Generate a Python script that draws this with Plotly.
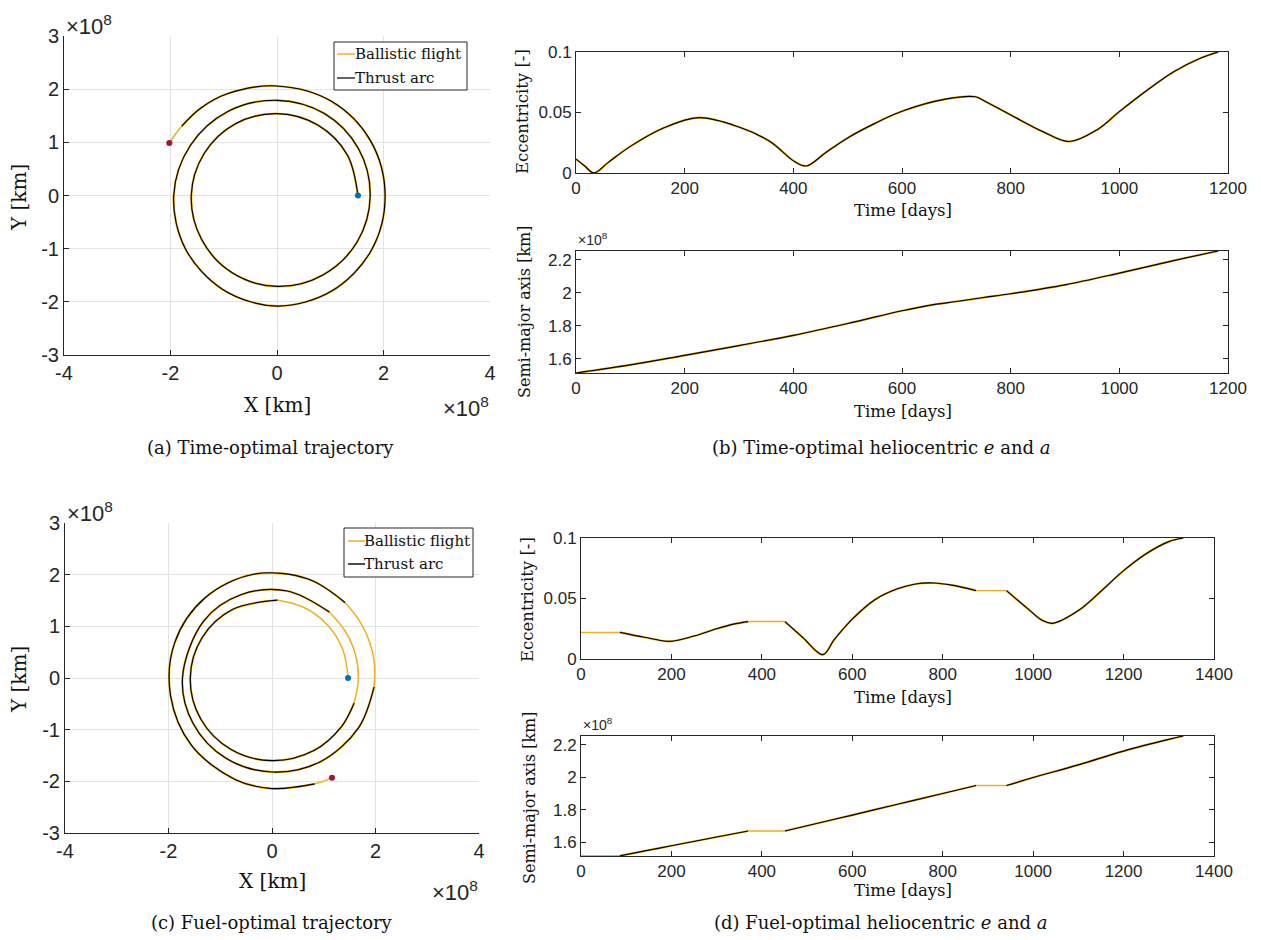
import math
import plotly.graph_objects as go

W, H = 1261, 940

# ---------------- data ----------------
# (a) time-optimal trajectory: cumulative polar angle [deg] and radius [1e8 km]
theta_time = [0, 30, 60, 90, 120, 150, 180, 210, 240, 270, 300, 330, 360, 390, 420, 450,
              480, 510, 540, 570, 600, 630, 660, 690, 720, 750, 780, 810, 836, 851, 864, 869, 874]
r_time = [1.52, 1.525, 1.53, 1.54, 1.56, 1.58, 1.61, 1.64, 1.68, 1.71, 1.725, 1.74, 1.75, 1.765, 1.78, 1.79,
          1.83, 1.88, 1.94, 1.99, 2.04, 2.08, 2.07, 2.05, 2.03, 2.035, 2.045, 2.06, 2.13, 2.18, 2.215,
          2.23, 2.25]
ballistic_time_traj = [(864, 874)]

# (b) time-optimal eccentricity and semi-major axis
t_time_e = [0, 16, 33, 60, 100, 160, 226, 300, 357, 402, 424, 460, 500, 550, 600, 680, 735, 750,
            800, 860, 908, 960, 1000, 1050, 1100, 1150, 1182]
e_time = [0.0115, 0.0058, 0.0, 0.009, 0.022, 0.037, 0.0458, 0.038, 0.026, 0.0096, 0.0058, 0.017,
          0.029, 0.041, 0.051, 0.061, 0.063, 0.060, 0.048, 0.034, 0.026, 0.036, 0.0507, 0.068,
          0.0836, 0.095, 0.1]
t_time_a = [0, 100, 200, 300, 400, 500, 600, 650, 700, 750, 800, 900, 1000, 1100, 1182]
a_time = [1.515, 1.564, 1.622, 1.681, 1.743, 1.815, 1.892, 1.925, 1.948, 1.972, 1.995, 2.049,
          2.12, 2.196, 2.254]
ballistic_time_days = []

# (c) fuel-optimal trajectory
theta_fuel = [0, 22, 44, 66, 86, 120, 150, 180, 210, 240, 270, 300, 325, 343, 360, 376, 392, 409,
              440, 470, 500, 540, 570, 600, 630, 660, 690, 715, 728, 740, 753, 766, 790, 820, 850,
              880, 910, 940, 970, 990, 1012, 1016, 1021]
r_fuel = [1.47, 1.475, 1.485, 1.50, 1.51, 1.53, 1.56, 1.58, 1.59, 1.595, 1.60, 1.62, 1.64, 1.66, 1.67,
          1.675, 1.68, 1.69, 1.71, 1.72, 1.72, 1.73, 1.76, 1.79, 1.82, 1.87, 1.93, 1.98, 2.0, 2.01,
          2.02, 2.03, 2.04, 2.04, 2.02, 2.0, 1.99, 2.03, 2.09, 2.14, 2.21, 2.23, 2.25]
ballistic_fuel_traj = [(0, 86), (343, 409), (715, 766), (1012, 1021)]

# (d) fuel-optimal eccentricity and semi-major axis
t_fuel_e = [0, 86, 140, 197, 250, 300, 340, 370, 451, 490, 535, 560, 600, 650, 700, 740, 780, 820,
            874, 941, 990, 1020, 1043, 1100, 1150, 1200, 1250, 1300, 1332]
e_fuel = [0.022, 0.022, 0.018, 0.0146, 0.019, 0.025, 0.029, 0.0309, 0.0309, 0.018, 0.0036, 0.016,
          0.033, 0.049, 0.058, 0.062, 0.0628, 0.061, 0.0565, 0.0565, 0.041, 0.032, 0.0295, 0.040,
          0.056, 0.073, 0.087, 0.097, 0.1]
t_fuel_a = [0, 86, 150, 200, 300, 370, 451, 500, 600, 700, 800, 874, 941, 1000, 1100, 1200, 1300, 1332]
a_fuel = [1.515, 1.515, 1.55, 1.577, 1.631, 1.668, 1.668, 1.70, 1.766, 1.833, 1.899, 1.948, 1.948,
          1.997, 2.075, 2.16, 2.232, 2.253]
ballistic_fuel_days = [(0, 86), (370, 451), (874, 941)]

traj_xticks = [-4, -2, 0, 2, 4]
traj_xticktext = ["-4", "-2", "0", "2", "4"]
traj_yticks = [-3, -2, -1, 0, 1, 2, 3]
traj_yticktext = ["-3", "-2", "-1", "0", "1", "2", "3"]
ecc_ticks = [0, 0.05, 0.1]
ecc_ticktext = ["0", "0.05", "0.1"]
sma_ticks = [1.6, 1.8, 2.0, 2.2]
sma_ticktext = ["1.6", "1.8", "2", "2.2"]
time_ticks_b = [0, 200, 400, 600, 800, 1000, 1200]
time_ticks_d = [0, 200, 400, 600, 800, 1000, 1200, 1400]
legend_labels = ["Ballistic flight", "Thrust arc"]

ORANGE = "#EDB120"
BLACK = "#000000"
BLUE = "#0072BD"
RED = "#A2142F"
AX = "#262626"
SERIF = "DejaVu Serif, Liberation Serif, serif"
SANS = "Liberation Sans, Arial, Helvetica, sans-serif"


def segments(p, intervals):
    bounds = sorted(set([p[0], p[-1]] + [v for iv in intervals for v in iv]))
    out = []
    for lo, hi in zip(bounds[:-1], bounds[1:]):
        idx = [i for i, v in enumerate(p) if lo <= v <= hi]
        if len(idx) < 2:
            continue
        ball = any(a <= lo and hi <= b for a, b in intervals)
        out.append((ball, idx))
    return out


fig = go.Figure()


def add_curve(xs, ys, p, intervals, xa, ya):
    for ball, idx in segments(p, intervals):
        sx = [xs[i] for i in idx]
        sy = [ys[i] for i in idx]
        if ball:
            fig.add_trace(go.Scatter(x=sx, y=sy, mode="lines", xaxis=xa, yaxis=ya,
                                     line=dict(color=ORANGE, width=1.5, shape="spline", smoothing=1),
                                     name=legend_labels[0], showlegend=False, hoverinfo="skip"))
        else:
            fig.add_trace(go.Scatter(x=sx, y=sy, mode="lines", xaxis=xa, yaxis=ya,
                                     line=dict(color=ORANGE, width=2.2, shape="spline", smoothing=1),
                                     showlegend=False, hoverinfo="skip"))
            fig.add_trace(go.Scatter(x=sx, y=sy, mode="lines", xaxis=xa, yaxis=ya,
                                     line=dict(color=BLACK, width=1.15, shape="spline", smoothing=1),
                                     name=legend_labels[1], showlegend=False, hoverinfo="skip"))


def polar_xy(theta, r):
    xs = [ri * math.cos(math.radians(t)) for t, ri in zip(theta, r)]
    ys = [ri * math.sin(math.radians(t)) for t, ri in zip(theta, r)]
    return xs, ys


# (a)
xa_, ya_ = polar_xy(theta_time, r_time)
add_curve(xa_, ya_, theta_time, ballistic_time_traj, "x", "y")
fig.add_trace(go.Scatter(x=[xa_[0]], y=[ya_[0]], mode="markers", xaxis="x", yaxis="y",
                         marker=dict(color=BLUE, size=6), showlegend=False))
fig.add_trace(go.Scatter(x=[xa_[-1]], y=[ya_[-1]], mode="markers", xaxis="x", yaxis="y",
                         marker=dict(color=RED, size=6), showlegend=False))
# (b)
add_curve(t_time_e, e_time, t_time_e, ballistic_time_days, "x2", "y2")
add_curve(t_time_a, a_time, t_time_a, ballistic_time_days, "x3", "y3")
# (c)
xc_, yc_ = polar_xy(theta_fuel, r_fuel)
add_curve(xc_, yc_, theta_fuel, ballistic_fuel_traj, "x4", "y4")
fig.add_trace(go.Scatter(x=[xc_[0]], y=[yc_[0]], mode="markers", xaxis="x4", yaxis="y4",
                         marker=dict(color=BLUE, size=6), showlegend=False))
fig.add_trace(go.Scatter(x=[xc_[-1]], y=[yc_[-1]], mode="markers", xaxis="x4", yaxis="y4",
                         marker=dict(color=RED, size=6), showlegend=False))
# (d)
add_curve(t_fuel_e, e_fuel, t_fuel_e, ballistic_fuel_days, "x5", "y5")
add_curve(t_fuel_a, a_fuel, t_fuel_a, ballistic_fuel_days, "x6", "y6")


def dx(px0, px1):
    return [px0 / W, px1 / W]


def dy(top, bottom):
    return [1 - bottom / H, 1 - top / H]


traj_ax = dict(showline=True, linecolor=AX, linewidth=1, mirror=False, ticks="inside", ticklen=5,
               tickcolor=AX, showgrid=True, gridcolor="#e3e3e3", gridwidth=1, zeroline=False,
               automargin=False, tickfont=dict(family=SANS, size=20, color=AX), fixedrange=True)
right_ax = dict(showline=True, linecolor=AX, linewidth=1, mirror="ticks", ticks="inside", ticklen=5,
                tickcolor=AX, showgrid=False, zeroline=False, automargin=False,
                tickfont=dict(family=SANS, size=17, color=AX), fixedrange=True)

fig.update_layout(
    width=W, height=H, autosize=False, showlegend=False,
    margin=dict(l=0, r=0, t=0, b=0, pad=0),
    paper_bgcolor="white", plot_bgcolor="white",
    xaxis=dict(traj_ax, domain=dx(64, 490), range=[-4, 4], tickvals=traj_xticks, ticktext=traj_xticktext, anchor="y"),
    yaxis=dict(traj_ax, domain=dy(36, 355), range=[-3, 3], tickvals=traj_yticks, ticktext=traj_yticktext, anchor="x"),
    xaxis2=dict(right_ax, domain=dx(576, 1228), range=[0, 1200], tickvals=time_ticks_b, anchor="y2"),
    yaxis2=dict(right_ax, domain=dy(52, 173), range=[0, 0.1], tickvals=ecc_ticks, ticktext=ecc_ticktext, anchor="x2"),
    xaxis3=dict(right_ax, domain=dx(576, 1228), range=[0, 1200], tickvals=time_ticks_b, anchor="y3"),
    yaxis3=dict(right_ax, domain=dy(251, 373), range=[1.515, 2.254], tickvals=sma_ticks, ticktext=sma_ticktext, anchor="x3"),
    xaxis4=dict(traj_ax, domain=dx(65, 479), range=[-4, 4], tickvals=traj_xticks, ticktext=traj_xticktext, anchor="y4"),
    yaxis4=dict(traj_ax, domain=dy(523, 833), range=[-3, 3], tickvals=traj_yticks, ticktext=traj_yticktext, anchor="x4"),
    xaxis5=dict(right_ax, domain=dx(581, 1214), range=[0, 1400], tickvals=time_ticks_d, anchor="y5"),
    yaxis5=dict(right_ax, domain=dy(538, 659), range=[0, 0.1], tickvals=ecc_ticks, ticktext=ecc_ticktext, anchor="x5"),
    xaxis6=dict(right_ax, domain=dx(581, 1214), range=[0, 1400], tickvals=time_ticks_d, anchor="y6"),
    yaxis6=dict(right_ax, domain=dy(736, 856), range=[1.514, 2.253], tickvals=sma_ticks, ticktext=sma_ticktext, anchor="x6"),
)


def ann(text, px, py, size, family=SERIF, angle=0, xanchor="center", yanchor="middle", color="#111111"):
    fig.add_annotation(text=text, x=px / W, y=1 - py / H, xref="paper", yref="paper",
                       showarrow=False, textangle=angle, xanchor=xanchor, yanchor=yanchor,
                       font=dict(family=family, size=size, color=color))


def legend_box(x0, y0, x1, y1, line_x0, line_x1, text_x, rows):
    fig.add_shape(type="rect", xref="paper", yref="paper", x0=x0 / W, x1=x1 / W,
                  y0=1 - y1 / H, y1=1 - y0 / H, line=dict(color=AX, width=1),
                  fillcolor="white", layer="above")
    for (yy, col), label in zip(rows, legend_labels):
        fig.add_shape(type="line", xref="paper", yref="paper", x0=line_x0 / W, x1=line_x1 / W,
                      y0=1 - yy / H, y1=1 - yy / H, line=dict(color=col, width=1.5), layer="above")
        ann(label, text_x, yy, 15, xanchor="left")


legend_box(334, 42, 467, 90, 337, 355, 353, [(54, ORANGE), (78, "#333333")])
legend_box(344, 528, 473, 577, 348, 365, 362, [(541, ORANGE), (564, "#111111")])

# axis labels
ann("X [km]", 277, 405, 20)
ann("Y [km]", 19, 198, 20, angle=-90)
ann("X [km]", 272, 881, 20)
ann("Y [km]", 19, 680, 20, angle=-90)
ann("Time [days]", 903, 211, 16.5)
ann("Time [days]", 903, 411, 16.5)
ann("Time [days]", 903, 697, 16.5)
ann("Time [days]", 903, 890, 16.5)
ann("Eccentricity [-]", 523, 112, 16.5, angle=-90)
ann("Semi-major axis [km]", 524, 312, 16, angle=-90)
ann("Eccentricity [-]", 527, 600, 16.5, angle=-90)
ann("Semi-major axis [km]", 529, 798, 16, angle=-90)

# exponent labels
ann("×10<sup>8</sup>", 64, 41, 22, family=SANS, xanchor="left", yanchor="bottom", color=AX)
ann("×10<sup>8</sup>", 491, 391, 22, family=SANS, xanchor="right", yanchor="top", color=AX)
ann("×10<sup>8</sup>", 65, 528, 22, family=SANS, xanchor="left", yanchor="bottom", color=AX)
ann("×10<sup>8</sup>", 480, 875, 22, family=SANS, xanchor="right", yanchor="top", color=AX)
ann("×10<sup>8</sup>", 576, 250, 14, family=SANS, xanchor="left", yanchor="bottom", color=AX)
ann("×10<sup>8</sup>", 581, 735, 14, family=SANS, xanchor="left", yanchor="bottom", color=AX)

# captions
ann("(a) Time-optimal trajectory", 270, 447, 18)
ann("(b) Time-optimal heliocentric <i>e</i> and <i>a</i>", 881, 447, 18)
ann("(c) Fuel-optimal trajectory", 272, 922, 18)
ann("(d) Fuel-optimal heliocentric <i>e</i> and <i>a</i>", 881, 922, 18)

fig.write_html("out.html")
